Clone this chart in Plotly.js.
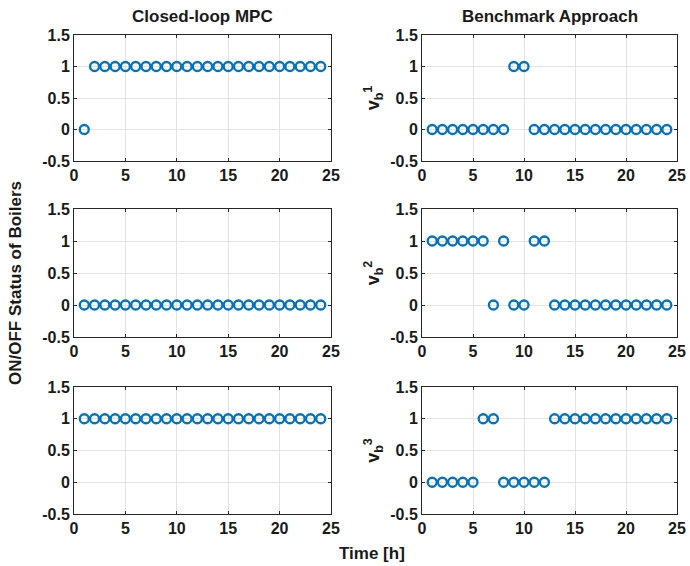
<!DOCTYPE html>
<html>
<head>
<meta charset="utf-8">
<script src="https://cdn.plot.ly/plotly-3.0.1.min.js"></script>
<style>body{margin:0;padding:0;background:#fff}#plot{width:690px;height:566px}</style>
</head>
<body>
<div id="plot"></div>
<script>
const hours = [1,2,3,4,5,6,7,8,9,10,11,12,13,14,15,16,17,18,19,20,21,22,23,24];
const mpcBoiler1 = [0,1,1,1,1,1,1,1,1,1,1,1,1,1,1,1,1,1,1,1,1,1,1,1];
const mpcBoiler2 = [0,0,0,0,0,0,0,0,0,0,0,0,0,0,0,0,0,0,0,0,0,0,0,0];
const mpcBoiler3 = [1,1,1,1,1,1,1,1,1,1,1,1,1,1,1,1,1,1,1,1,1,1,1,1];
const benchBoiler1 = [0,0,0,0,0,0,0,0,1,1,0,0,0,0,0,0,0,0,0,0,0,0,0,0];
const benchBoiler2 = [1,1,1,1,1,1,0,1,0,0,1,1,0,0,0,0,0,0,0,0,0,0,0,0];
const benchBoiler3 = [0,0,0,0,0,1,1,0,0,0,0,0,1,1,1,1,1,1,1,1,1,1,1,1];
const columnTitles = ["Closed-loop MPC", "Benchmark Approach"];
const yTickVals = [-0.5, 0, 0.5, 1, 1.5];
const yTickText = ["-0.5", "0", "0.5", "1", "1.5"];
const xTickVals = [0, 5, 10, 15, 20, 25];

const series = [mpcBoiler1, benchBoiler1, mpcBoiler2, benchBoiler2, mpcBoiler3, benchBoiler3];
const blue = '#0072BD';
const fam = 'Liberation Sans, Arial, sans-serif';
const font = {family: fam, size: 16, color: '#1a1a1a', weight: 'bold'};
const bigFont = {family: fam, size: 17, color: '#1a1a1a', weight: 'bold'};

const traces = series.map((ys, i) => ({
  x: hours, y: ys, type: 'scatter', mode: 'markers',
  xaxis: 'x' + (i === 0 ? '' : i + 1), yaxis: 'y' + (i === 0 ? '' : i + 1),
  marker: {symbol: 'circle-open', size: 9, color: blue, line: {width: 2.3, color: blue}},
  showlegend: false, hoverinfo: 'skip'
}));

const colDom = [[74/690, 331/690], [422/690, 677/690]];
const rowDom = [[1-161/566, 1-35/566], [1-337/566, 1-209/566], [1-514/566, 1-387/566]];

const layout = {
  width: 690, height: 566,
  margin: {l: 0, r: 0, t: 0, b: 0},
  paper_bgcolor: '#fff', plot_bgcolor: '#fff',
  font: font,
  annotations: [],
  showlegend: false
};

for (let i = 0; i < 6; i++) {
  const r = Math.floor(i / 2), c = i % 2;
  const sfx = i === 0 ? '' : String(i + 1);
  layout['xaxis' + sfx] = {
    domain: colDom[c], anchor: 'y' + sfx, range: [0, 25],
    tickvals: xTickVals, ticks: 'inside', ticklen: 3, tickcolor: '#262626',
    showline: true, mirror: 'ticks', linecolor: '#262626', linewidth: 1,
    showgrid: true, gridcolor: '#e3e3e3', gridwidth: 1, zeroline: false,
    tickfont: font
  };
  layout['yaxis' + sfx] = {
    domain: rowDom[r], anchor: 'x' + sfx, range: [-0.5, 1.5],
    tickvals: yTickVals, ticktext: yTickText, ticks: 'inside', ticklen: 3, tickcolor: '#262626',
    showline: true, mirror: 'ticks', linecolor: '#262626', linewidth: 1,
    showgrid: true, gridcolor: '#e3e3e3', gridwidth: 1, zeroline: false,
    tickfont: font
  };
  if (c === 1) {
    layout['yaxis' + sfx].title = {text: 'v<sub>b</sub><sup>' + (r + 1) + '</sup>', font: {family: fam, size: 18, color: '#1a1a1a', weight: 'bold'}, standoff: 5};
  }
}

layout.annotations.push(
  {text: columnTitles[0], xref: 'paper', yref: 'paper', x: (74+331)/2/690, y: 1 - 17/566, xanchor: 'center', yanchor: 'middle', showarrow: false, font: bigFont},
  {text: columnTitles[1], xref: 'paper', yref: 'paper', x: (422+677)/2/690, y: 1 - 17/566, xanchor: 'center', yanchor: 'middle', showarrow: false, font: bigFont},
  {text: 'ON/OFF Status of Boilers', xref: 'paper', yref: 'paper', x: 15/690, y: 1 - 283/566, xanchor: 'center', yanchor: 'middle', textangle: -90, showarrow: false, font: bigFont},
  {text: 'Time [h]', xref: 'paper', yref: 'paper', x: 372/690, y: 1 - 553/566, xanchor: 'center', yanchor: 'middle', showarrow: false, font: bigFont}
);

Plotly.newPlot('plot', traces, layout, {staticPlot: true, displayModeBar: false});
</script>
</body>
</html>
